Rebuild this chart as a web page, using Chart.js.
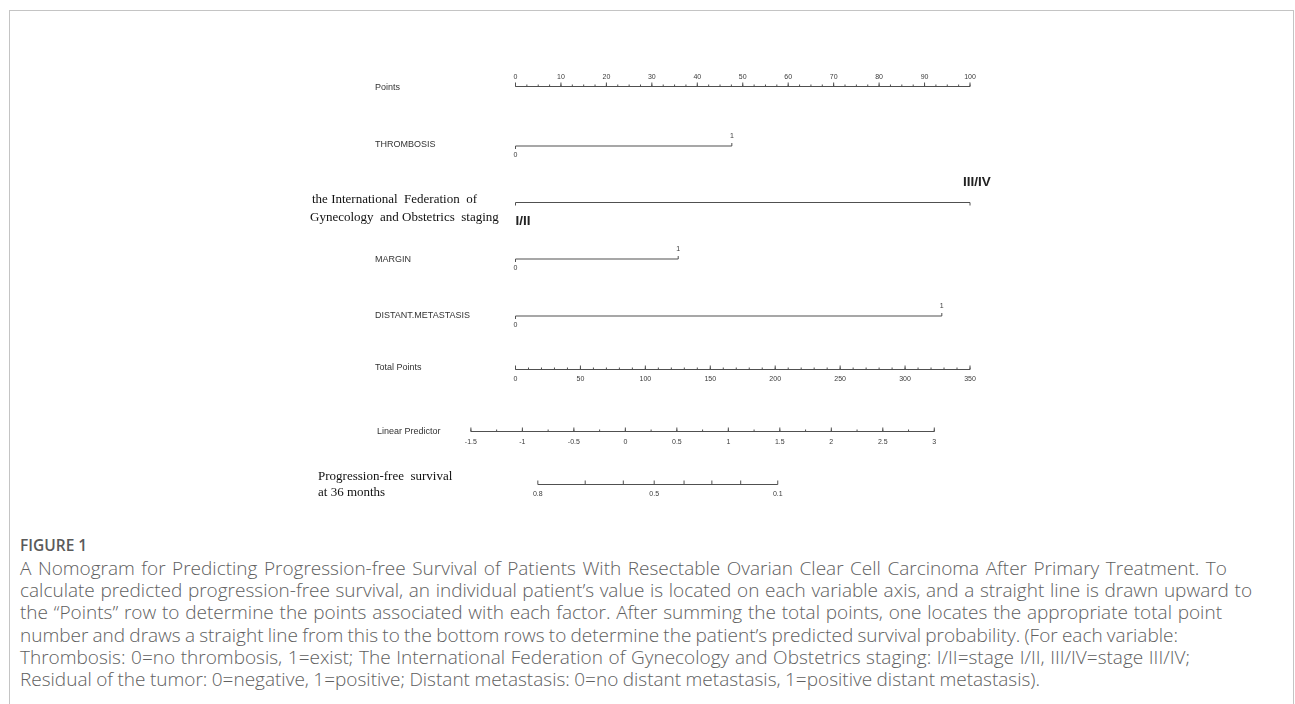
<!DOCTYPE html>
<html>
<head>
<meta charset="utf-8">
<script src="https://cdn.jsdelivr.net/npm/chart.js@4"></script>
<style>
  html, body { margin:0; padding:0; background:#fff; width:1295px; height:704px; overflow:hidden; }
  #frame { position:absolute; left:9px; top:10px; width:1285px; height:720px; border-left:1.5px solid #c4c4c4; border-top:1.5px solid #c4c4c4; border-right:1.5px solid #c4c4c4; box-sizing:border-box; }
  #wrap { position:absolute; left:0; top:0; width:1295px; height:510px; }
  #fig { position:absolute; left:20px; top:535px; line-height:20px; font-family:"Open Sans", sans-serif; font-size:15.5px; font-weight:600; color:#5a5a5a; }
  #cap { position:absolute; left:20px; top:557px; font-family:"Open Sans", sans-serif; font-size:19px; color:#606060; line-height:22.2px; white-space:nowrap; font-weight:300; }
  #cap span { display:inline-block; }
</style>
</head>
<body>
<div id="frame"></div>
<div id="wrap"><canvas id="c" width="1295" height="510"></canvas></div>
<div id="fig">FIGURE 1</div>
<div id="cap">
<div><span data-r="1227">A Nomogram for Predicting Progression-free Survival of Patients With Resectable Ovarian Clear Cell Carcinoma After Primary Treatment. To</span></div>
<div><span data-r="1252">calculate predicted progression-free survival, an individual patient’s value is located on each variable axis, and a straight line is drawn upward to</span></div>
<div><span data-r="1222">the “Points” row to determine the points associated with each factor. After summing the total points, one locates the appropriate total point</span></div>
<div><span data-r="1178">number and draws a straight line from this to the bottom rows to determine the patient’s predicted survival probability. (For each variable:</span></div>
<div><span data-r="1190">Thrombosis: 0=no thrombosis, 1=exist; The International Federation of Gynecology and Obstetrics staging: I/II=stage I/II, III/IV=stage III/IV;</span></div>
<div><span data-r="1040">Residual of the tumor: 0=negative, 1=positive; Distant metastasis: 0=no distant metastasis, 1=positive distant metastasis).</span></div>
</div>
<script>
// ---------------- DATA ----------------
const pointsLabels = [0,10,20,30,40,50,60,70,80,90,100];
const pointsMinorStep = 2.5;

const variableNames = ['THROMBOSIS', 'FIGO', 'MARGIN', 'DISTANT.METASTASIS'];
const levelLabels  = [['0','1'], ['I/II','III/IV'], ['0','1'], ['0','1']];
const levelPoints  = [[0, 47.6], [0, 100], [0, 35.8], [0, 93.8]];

const totalLabels = [0,50,100,150,200,250,300,350];
const totalMinorStep = 10;

const lpLabels = [-1.5,-1,-0.5,0,0.5,1,1.5,2,2.5,3];
const lpMinorStep = 0.25;
const lpSlope = 79.3;
const lpIntercept = 84.6;

const pfsValues = [0.8,0.7,0.6,0.5,0.4,0.3,0.2,0.1];
const pfsLP     = [-0.85,-0.39,-0.02,0.28,0.57,0.84,1.12,1.48];
const pfsShown  = ['0.8','','','0.5','','','','0.1'];

// ---------------- LAYOUT ----------------
const pxLeft = 515.5, pxRight = 970;          // pixel of points 0 and 100
const canvasW = 1295, canvasH = 510;
const ppp = (pxRight - pxLeft) / 100;
const xMin = -pxLeft / ppp, xMax = xMin + canvasW / ppp;
const rowY = { points:86.5, var:[146, 202.5, 259, 316], total:369.5, lp:431.5, pfs:484.5 };
const labelX = 375;

// fit caption lines to the reference line widths via word spacing
document.querySelectorAll('#cap span').forEach(s => {
  const target = +s.dataset.r - 20;
  const w = s.getBoundingClientRect().width;
  const n = (s.textContent.match(/ /g) || []).length;
  if (n) s.style.wordSpacing = ((target - w) / n).toFixed(2) + 'px';
});

const toPts = t => t * 100 / 350;
const lpToPts = lp => toPts(lpSlope * lp + lpIntercept);

const lineColor = '#505050';
function seg(a, b, y) { return { data:[{x:a,y:y},{x:b,y:y}], borderColor:lineColor, borderWidth:1.2, pointRadius:0, showLine:true, fill:false }; }

const datasets = [
  seg(0, 100, rowY.points),
  ...levelPoints.map((lv,i) => seg(lv[0], lv[1], rowY.var[i])),
  seg(toPts(totalLabels[0]), toPts(totalLabels[totalLabels.length-1]), rowY.total),
  seg(lpToPts(lpLabels[0]), lpToPts(lpLabels[lpLabels.length-1]), rowY.lp),
  seg(lpToPts(pfsLP[0]), lpToPts(pfsLP[pfsLP.length-1]), rowY.pfs)
];

const nomoPlugin = {
  id:'nomo',
  afterDatasetsDraw(chart) {
    const ctx = chart.ctx, X = chart.scales.x, Y = chart.scales.y;
    const px = v => X.getPixelForValue(v), py = v => Y.getPixelForValue(v);
    ctx.save();
    ctx.strokeStyle = lineColor; ctx.lineWidth = 1;
    function tick(x, y, len) { ctx.beginPath(); ctx.moveTo(x, y); ctx.lineTo(x, y + len); ctx.stroke(); }
    function txt(s, x, y, font, color, align) { ctx.font = font; ctx.fillStyle = color || '#333'; ctx.textAlign = align || 'center'; ctx.textBaseline = 'middle'; ctx.fillText(s, x, y); }
    const tickFont = '7px "Liberation Sans", Arial, sans-serif';
    const rowFont = '9px "Liberation Sans", Arial, sans-serif';
    const serif = '13px "Liberation Serif", "Times New Roman", serif';
    const bigFont = 'bold 13.5px "Liberation Sans", Arial, sans-serif';

    // Points axis (labels above)
    let y = py(rowY.points);
    for (let v = 0; v <= 100 + 1e-9; v += pointsMinorStep) tick(px(v), y, -2);
    pointsLabels.forEach(v => { tick(px(v), y, -4); txt(String(v), px(v), y - 9, tickFont, '#3a3a3a'); });
    txt('Points', labelX, y + 1.5, rowFont, '#333', 'left');

    // Variables
    levelPoints.forEach((lv, i) => {
      const yy = py(rowY.var[i]);
      const big = variableNames[i] === 'FIGO';
      tick(px(lv[0]), yy, 3);
      tick(px(lv[1]), yy, big ? 3 : -3);
      if (big) {
        txt(levelLabels[i][0], px(lv[0]), yy + 19, bigFont, '#222', 'left');
        txt(levelLabels[i][1], px(lv[1]) - 7, yy - 20, bigFont, '#222', 'left');
      } else {
        txt(levelLabels[i][0], px(lv[0]), yy + 9, tickFont, '#3a3a3a');
        txt(levelLabels[i][1], px(lv[1]), yy - 9.5, tickFont, '#3a3a3a');
      }
    });
    txt('THROMBOSIS', labelX, py(rowY.var[0]) - 1.5, rowFont, '#333', 'left');
    txt('the International  Federation  of', 312, py(rowY.var[1]) - 3, serif, '#111', 'left');
    txt('Gynecology  and Obstetrics  staging', 310, py(rowY.var[1]) + 15.5, serif, '#111', 'left');
    txt('MARGIN', labelX, py(rowY.var[2]) + 1, rowFont, '#333', 'left');
    txt('DISTANT.METASTASIS', labelX, py(rowY.var[3]), rowFont, '#333', 'left');

    // Total points (labels below)
    y = py(rowY.total);
    for (let v = 0; v <= 350 + 1e-9; v += totalMinorStep) tick(px(toPts(v)), y, -2);
    totalLabels.forEach(v => { tick(px(toPts(v)), y, -4); txt(String(v), px(toPts(v)), y + 10, tickFont, '#3a3a3a'); });
    txt('Total Points', labelX, y - 1.5, rowFont, '#333', 'left');

    // Linear predictor
    y = py(rowY.lp);
    for (let v = lpLabels[0]; v <= lpLabels[lpLabels.length-1] + 1e-9; v += lpMinorStep) tick(px(lpToPts(v)), y, -2);
    lpLabels.forEach(v => { tick(px(lpToPts(v)), y, -4); txt(String(v), px(lpToPts(v)), y + 11, tickFont, '#3a3a3a'); });
    txt('Linear Predictor', 377, y, rowFont, '#333', 'left');

    // PFS
    y = py(rowY.pfs);
    pfsLP.forEach((lp, i) => { tick(px(lpToPts(lp)), y, -4); if (pfsShown[i]) txt(pfsShown[i], px(lpToPts(lp)), y + 10, tickFont, '#3a3a3a'); });
    txt('Progression-free  survival', 318, y - 8, serif, '#111', 'left');
    txt('at 36 months', 318, y + 8, serif, '#111', 'left');
    ctx.restore();
  }
};

new Chart(document.getElementById('c'), {
  type:'scatter',
  data:{ datasets },
  options:{
    responsive:false, animation:false, devicePixelRatio:1,
    layout:{ padding:0 },
    plugins:{ legend:{display:false}, tooltip:{enabled:false} },
    scales:{
      x:{ type:'linear', display:false, min:xMin, max:xMax },
      y:{ type:'linear', display:false, min:0, max:canvasH, reverse:true }
    }
  },
  plugins:[nomoPlugin]
});
</script>
</body>
</html>
